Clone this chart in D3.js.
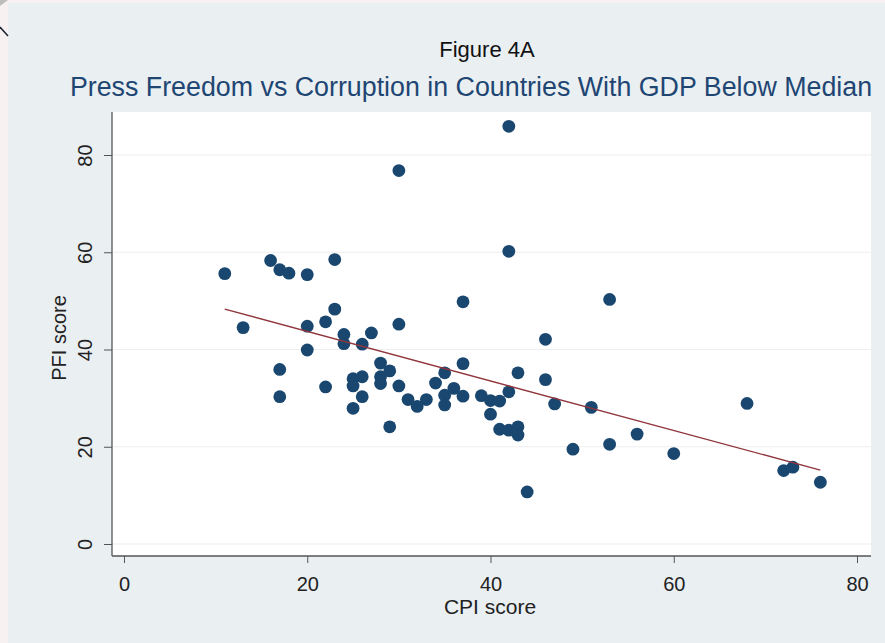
<!DOCTYPE html>
<html>
<head>
<meta charset="utf-8">
<script src="https://cdn.jsdelivr.net/npm/d3@7"></script>
<style>
  html, body { margin: 0; padding: 0; background: #f7f2f1; }
  svg { display: block; }
  text { font-family: "Liberation Sans", Arial, Helvetica, sans-serif; }
</style>
</head>
<body>
<svg id="chart" width="885" height="643"></svg>
<script>
// ---- Data ----
const cpiScore = [11,13,16,17,18,20,23,17,17,20,20,22,23,24,24,22,25,25,25,26,26,26,27,28,28,28,29,29,30,30,30,31,32,33,34,35,35,35,36,37,37,37,39,40,40,41,41,42,42,42,42,43,43,43,44,46,46,47,49,51,53,53,56,60,68,72,73,76];
const pfiScore = [55.6,44.5,58.3,56.4,55.7,55.4,58.5,35.9,30.3,44.8,39.9,45.7,48.3,43.1,41.2,32.3,34.0,32.5,27.9,34.4,30.3,41.1,43.4,37.2,34.4,33.0,35.6,24.1,76.8,45.2,32.5,29.7,28.3,29.7,33.1,35.2,30.6,28.6,32.0,49.8,37.1,30.4,30.5,29.5,26.7,29.4,23.6,85.9,60.2,31.3,23.4,35.2,24.1,22.4,10.7,42.1,33.8,28.8,19.5,28.1,50.3,20.5,22.6,18.6,28.9,15.1,15.8,12.7];
// fitted (linear fit) line end points
const fitX = [11, 76];
const fitY = [48.3, 15.2];
const xTicks = [0, 20, 40, 60, 80];
const yTicks = [0, 20, 40, 60, 80];
const titleText = "Figure 4A";
const subtitleText = "Press Freedom vs Corruption in Countries With GDP Below Median";
const xTitle = "CPI score";
const yTitle = "PFI score";

// ---- Layout ----
const W = 885, H = 643;
const plot = { left: 112, right: 871, top: 112, bottom: 556 };
const svg = d3.select("#chart");

// outer backgrounds
svg.append("rect").attr("x", 0).attr("y", 0).attr("width", W).attr("height", H).attr("fill", "#f7f2f1");
svg.append("rect").attr("x", 8).attr("y", 3).attr("width", W - 8).attr("height", H - 3).attr("fill", "#eaeff2");
// small corner artefacts
svg.append("path").attr("d", "M0,0 L8,0 L0,6 Z").attr("fill", "#bdbdbd");
svg.append("line").attr("x1", 0).attr("y1", 27).attr("x2", 8).attr("y2", 36).attr("stroke", "#1c2333").attr("stroke-width", 1.5);

// plot region
svg.append("rect").attr("x", plot.left).attr("y", plot.top)
  .attr("width", plot.right - plot.left).attr("height", plot.bottom - plot.top).attr("fill", "#ffffff");

const x = d3.scaleLinear().domain([0, 80]).range([124, 857]);
const y = d3.scaleLinear().domain([0, 80]).range([544, 155]);

// gridlines
svg.append("g").selectAll("line").data(yTicks).join("line")
  .attr("x1", plot.left + 1).attr("x2", plot.right)
  .attr("y1", d => y(d)).attr("y2", d => y(d))
  .attr("stroke", "#eeeeee").attr("stroke-width", 1.2);

// y axis
const yAxis = svg.append("g").attr("transform", `translate(${plot.left},0)`)
  .call(d3.axisLeft(y).tickValues(yTicks).tickSize(8).tickFormat(d3.format("d")));
yAxis.select(".domain").remove();
yAxis.selectAll(".tick line").attr("stroke", "#555");
yAxis.selectAll(".tick text")
  .attr("x", null).attr("dy", null)
  .attr("transform", "translate(-20,0) rotate(-90)")
  .attr("text-anchor", "middle")
  .attr("font-size", 20).attr("fill", "#222");
svg.append("line").attr("x1", plot.left).attr("x2", plot.left)
  .attr("y1", plot.top).attr("y2", plot.bottom).attr("stroke", "#555").attr("stroke-width", 1.3);

// x axis
const xAxis = svg.append("g").attr("transform", `translate(0,${plot.bottom})`)
  .call(d3.axisBottom(x).tickValues(xTicks).tickSize(7).tickFormat(d3.format("d")));
xAxis.select(".domain").remove();
xAxis.selectAll(".tick line").attr("stroke", "#555");
xAxis.selectAll(".tick text")
  .attr("y", 35).attr("dy", null)
  .attr("font-size", 20).attr("fill", "#222");
svg.append("line").attr("x1", plot.left).attr("x2", plot.right)
  .attr("y1", plot.bottom).attr("y2", plot.bottom).attr("stroke", "#555").attr("stroke-width", 1.3);

// points
const pts = cpiScore.map((c, i) => ({ c, p: pfiScore[i] }));
svg.append("g").selectAll("circle").data(pts).join("circle")
  .attr("cx", d => x(d.c)).attr("cy", d => y(d.p)).attr("r", 6.4)
  .attr("fill", "#1a476f");

// fitted line
const fit = fitX.map((v, i) => [v, fitY[i]]);
svg.append("path").datum(fit)
  .attr("d", d3.line().x(d => x(d[0])).y(d => y(d[1])))
  .attr("fill", "none").attr("stroke", "#90353b").attr("stroke-width", 1.4);

// titles
svg.append("text").attr("x", 487).attr("y", 57).attr("text-anchor", "middle")
  .attr("font-size", 22).attr("fill", "#111").text(titleText);
svg.append("text").attr("x", 471).attr("y", 96).attr("text-anchor", "middle")
  .attr("font-size", 26.8).attr("fill", "#1f4673").text(subtitleText);
svg.append("text").attr("x", 490).attr("y", 614).attr("text-anchor", "middle")
  .attr("font-size", 21).attr("fill", "#222").text(xTitle);
svg.append("text").attr("transform", `translate(66,338) rotate(-90)`).attr("text-anchor", "middle")
  .attr("font-size", 20).attr("fill", "#222").text(yTitle);
</script>
</body>
</html>
